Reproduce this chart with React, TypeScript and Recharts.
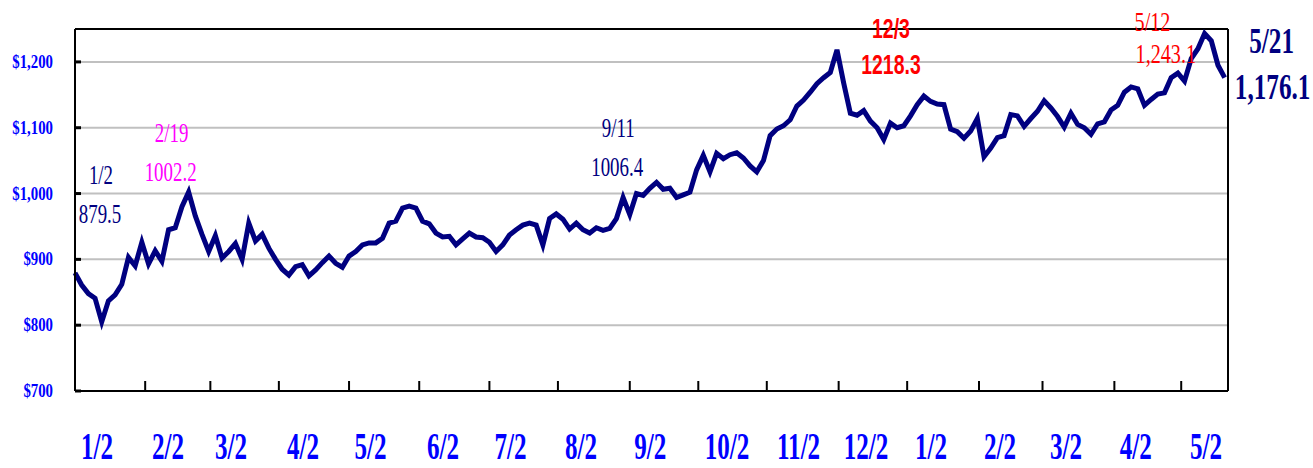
import React from "react"
import { LineChart, Line, XAxis, YAxis, CartesianGrid, ReferenceLine } from "recharts"

// closing level, one reading every other trading day (1/2 .. 5/21 of the next year)
const closes = [
  879.5, 861, 848, 841, 805, 837, 846, 862, 903, 890,
  926, 893, 913, 897, 945, 948, 980, 1002.2, 966, 938,
  912, 936, 902, 912, 924, 900, 955, 928, 938, 917,
  900, 885, 876, 889, 892, 875, 884, 895, 905, 894,
  888, 905, 912, 922, 925, 925, 932, 955, 958, 978,
  981, 978, 958, 954, 940, 934, 935, 922, 931, 940,
  934, 933, 926, 912, 922, 937, 945, 952, 955, 952,
  922, 962, 969, 961, 946, 955, 945, 940, 948, 944,
  947, 962, 994, 968, 1000, 997, 1008, 1017, 1006.4, 1008,
  994, 998, 1002, 1036, 1058, 1033, 1061, 1053, 1059, 1062,
  1054, 1042, 1033, 1050, 1088, 1098, 1103, 1112, 1133, 1142,
  1154, 1167, 1176, 1184, 1218.3, 1168, 1122, 1119, 1126, 1110,
  1100, 1082, 1107, 1100, 1103, 1118, 1135, 1148, 1140, 1136,
  1135, 1098, 1094, 1084, 1095, 1114, 1056, 1069, 1085, 1088,
  1120, 1118, 1102, 1114, 1125, 1141, 1130, 1117, 1101, 1122,
  1105, 1100, 1090, 1106, 1109, 1127, 1134, 1154, 1162, 1159,
  1134, 1143, 1151, 1153, 1176, 1183, 1171, 1205, 1220, 1243.1,
  1232, 1195, 1176.1,
]

// trading-day positions of month boundaries and of the month labels
const monthStarts = [21, 40.5, 61, 82, 103, 124, 144.5, 166, 186.5, 207, 228.5, 249, 270.5, 289.5, 311, 331]
const monthLabelDays = [6.6, 27.8, 46.7, 68.2, 88.4, 110.1, 130.3, 151.4, 172.1, 195.1, 216.5, 236.7, 256.1, 276.8, 296.5, 317.4, 338.4]
const monthLabels = ["1/2", "2/2", "3/2", "4/2", "5/2", "6/2", "7/2", "8/2", "9/2", "10/2", "11/2", "12/2", "1/2", "2/2", "3/2", "4/2", "5/2"]
const lastDay = 345

const priceTicks = [700, 800, 900, 1000, 1100, 1200]
const priceMax = 1250

// annotated closes
const noteIndex = [0, 17, 88, 114, 169, 172]
const noteDate = ["1/2", "2/19", "9/11", "12/3", "5/12", "5/21"]
const noteValue = ["879.5", "1002.2", "1006.4", "1218.3", "1,243.1", "1,176.1"]

const data = closes.map((close, i) => ({ day: i * 2, close }))

const SERIF = "'Liberation Serif', 'Times New Roman', serif"
const SANS = "'Liberation Sans', Arial, sans-serif"

const noteLook = [
  { dx1: 26, dy1: -98, dx2: 25, dy2: -59, color: "#000080", font: SERIF, weight: 400, size: 27, sx: 0.7, anchor: "middle" },
  { dx1: -17, dy1: -59, dx2: -18, dy2: -20, color: "#ff00ff", font: SERIF, weight: 400, size: 27, sx: 0.7, anchor: "middle" },
  { dx1: -45, dy1: -62, dx2: -46, dy2: -23, color: "#000080", font: SERIF, weight: 400, size: 27, sx: 0.7, anchor: "middle" },
  { dx1: 54, dy1: -21, dx2: 54, dy2: 15, color: "#ff0000", font: SANS, weight: 700, size: 27, sx: 0.72, anchor: "middle" },
  { dx1: -70, dy1: -12, dx2: -69, dy2: 20, color: "#ff0000", font: SERIF, weight: 400, size: 28, sx: 0.72, anchor: "start" },
  { dx1: 47, dy1: -37, dx2: 48, dy2: 9, color: "#000080", font: SERIF, weight: 700, size: 36, sx: 0.7, anchor: "middle" },
]

function Squeezed({ x, y, sx, children, ...rest }: any) {
  return (
    <g transform={`translate(${x},${y}) scale(${sx},1)`}>
      <text x={0} y={0} dominantBaseline="central" {...rest}>
        {children}
      </text>
    </g>
  )
}

function PriceTick(props: any) {
  const { x, y, payload } = props
  return (
    <g>
      <line x1={x} x2={x + 6} y1={y} y2={y} stroke="#000" strokeWidth={3} />
      <Squeezed x={x - 22} y={y} sx={0.78} textAnchor="end" fill="#0000ff"
        fontFamily={SERIF} fontWeight={700} fontSize={19}>
        {"$" + Number(payload.value).toLocaleString("en-US")}
      </Squeezed>
    </g>
  )
}

function DayTick(props: any) {
  const { x, y, payload } = props
  const v = payload.value
  if (monthStarts.includes(v)) {
    return <line x1={x} x2={x} y1={y} y2={y - 10} stroke="#000" strokeWidth={2} />
  }
  const k = monthLabelDays.indexOf(v)
  if (k < 0) return null
  return (
    <Squeezed x={x} y={y + 55} sx={0.66} textAnchor="middle" fill="#0000ff"
      fontFamily={SERIF} fontWeight={700} fontSize={38}>
      {monthLabels[k]}
    </Squeezed>
  )
}

function Note(props: any) {
  const idx = props.index
  const k = noteIndex.indexOf(idx)
  if (k < 0) return null
  const px = props.viewBox?.x ?? props.x
  const py = props.viewBox?.y ?? props.y
  const s = noteLook[k]
  const common = {
    sx: s.sx, textAnchor: s.anchor, fill: s.color,
    fontFamily: s.font, fontWeight: s.weight, fontSize: s.size,
  }
  return (
    <g>
      <Squeezed x={px + s.dx1} y={py + s.dy1} {...common}>{noteDate[k]}</Squeezed>
      <Squeezed x={px + s.dx2} y={py + s.dy2} {...common}>{noteValue[k]}</Squeezed>
    </g>
  )
}

export default function App() {
  return (
    <div style={{ position: "absolute", left: 0, top: 0, width: 1313, height: 468, background: "#fff" }}>
      <LineChart width={1313} height={468} data={data} margin={{ top: 29, right: 85, bottom: 0, left: 0 }}>
        <CartesianGrid vertical={false} stroke="#c0c0c0" strokeWidth={2} />
        <XAxis
          dataKey="day"
          type="number"
          domain={[0, lastDay]}
          ticks={[...monthStarts, ...monthLabelDays].sort((a, b) => a - b)}
          interval={0}
          height={77}
          tickSize={0}
          tickMargin={0}
          tickLine={false}
          tick={<DayTick />}
          axisLine={{ stroke: "#000", strokeWidth: 2 }}
        />
        <YAxis
          type="number"
          domain={[700, priceMax]}
          ticks={priceTicks}
          interval={0}
          width={75}
          tickSize={0}
          tickMargin={0}
          tickLine={false}
          tick={<PriceTick />}
          axisLine={{ stroke: "#000", strokeWidth: 2 }}
        />
        <ReferenceLine y={priceMax} stroke="#000" strokeWidth={2} />
        <ReferenceLine x={lastDay} stroke="#000" strokeWidth={2} />
        <Line
          type="linear"
          dataKey="close"
          stroke="#000080"
          strokeWidth={5}
          dot={false}
          isAnimationActive={false}
          label={Note}
        />
      </LineChart>
    </div>
  )
}
